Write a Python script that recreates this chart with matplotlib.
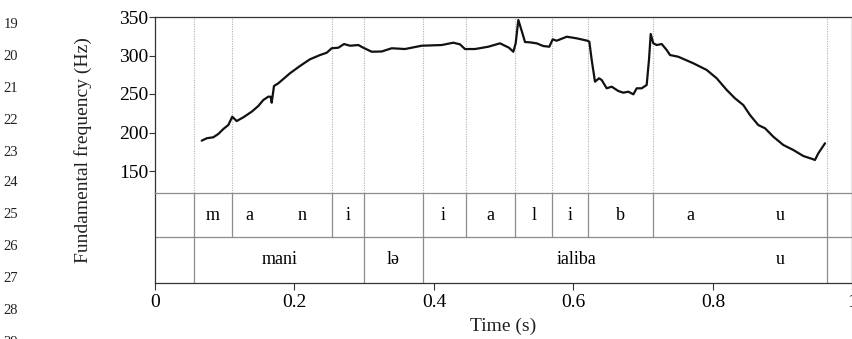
import matplotlib
matplotlib.use("Agg")
import matplotlib.pyplot as plt

plt.rcParams['font.family'] = ['Liberation Serif', 'DejaVu Serif']

# F0 track (time in s, frequency in Hz)
t = [0.0670, 0.0741, 0.0836, 0.0908, 0.0979, 0.1051, 0.1108, 0.1171, 0.1266, 0.1386,
     0.1481, 0.1553, 0.1624, 0.1659, 0.1673, 0.1706, 0.1768, 0.1935, 0.2079, 0.2222,
     0.2366, 0.2462, 0.2533, 0.2628, 0.2710, 0.2796, 0.2915, 0.2986, 0.3107, 0.3250,
     0.3394, 0.3584, 0.3824, 0.4110, 0.4277, 0.4373, 0.4444, 0.4588, 0.4778, 0.4946,
     0.5075, 0.5137, 0.5171, 0.5209, 0.5257, 0.5305, 0.5376, 0.5472, 0.5567, 0.5653,
     0.5702, 0.5759, 0.5903, 0.6046, 0.6198, 0.6227, 0.6261, 0.6308, 0.6366, 0.6404,
     0.6476, 0.6548, 0.6642, 0.6714, 0.6786, 0.6858, 0.6906, 0.6978, 0.7049, 0.7082,
     0.7107, 0.7144, 0.7193, 0.7265, 0.7336, 0.7384, 0.7502, 0.7718, 0.7910, 0.8053,
     0.8197, 0.8315, 0.8434, 0.8530, 0.8649, 0.8746, 0.8865, 0.9008, 0.9151, 0.9294,
     0.9438, 0.9462, 0.9510, 0.9606]
f0 = [189.4, 192.5, 193.8, 198.1, 204.5, 209.7, 220.5, 214.9, 219.7, 227.0,
      234.4, 242.2, 246.5, 246.5, 238.7, 260.4, 263.9, 276.9, 286.4, 295.1,
      300.6, 303.6, 309.4, 310.1, 314.9, 312.7, 313.6, 310.1, 304.9, 305.2,
      309.4, 308.4, 312.7, 313.6, 316.6, 314.5, 308.4, 308.4, 311.4, 315.8,
      310.1, 304.9, 315.8, 346.1, 332.1, 317.5, 317.1, 315.8, 312.3, 311.4,
      321.0, 319.2, 324.4, 322.3, 319.2, 317.9, 294.2, 266.0, 270.4, 268.2,
      257.4, 259.5, 253.9, 251.7, 253.0, 249.6, 257.4, 257.4, 261.7, 294.2,
      327.9, 315.8, 313.6, 314.9, 307.1, 300.6, 298.4, 289.9, 281.2, 270.4,
      255.2, 244.4, 235.7, 222.7, 209.7, 205.5, 194.5, 183.8, 177.3, 169.5,
      165.2, 164.3, 173.0, 186.0]

# segment tier: boundaries and labels (label, time position)
seg_bounds = [0.0559, 0.1108, 0.2533, 0.3001, 0.3838, 0.4459, 0.5161, 0.5696,
              0.6212, 0.7144, 0.9630]
seg_labels = [("m", 0.0834), ("a", 0.136), ("n", 0.2103), ("i", 0.2767),
              ("i", 0.4133), ("a", 0.4810), ("l", 0.5429), ("i", 0.5954),
              ("b", 0.6678), ("a", 0.768), ("u", 0.896)]
# word tier
word_bounds = [0.0559, 0.3001, 0.3838, 0.9630]
word_labels = [("mani", 0.178), ("lə", 0.3420), ("ialiba", 0.6046), ("u", 0.896)]

fig = plt.figure(figsize=(8.53, 3.39), dpi=100)
W, H = 853.0, 339.0
ax = fig.add_axes([155 / W, 1 - 193 / H, 697.5 / W, 176 / H])
tx = fig.add_axes([155 / W, 1 - 283 / H, 697.5 / W, 90 / H])
tx.patch.set_alpha(0)

dark = '#333333'
grey = '#8c8c8c'

for b in seg_bounds:
    ax.axvline(b, color='#b0b0b0', lw=0.8, ls=(0, (1, 1.2)), zorder=1)
ax.plot(t, f0, color='#111111', lw=1.6, zorder=3, solid_capstyle='round',
        solid_joinstyle='round')
ax.set_xlim(0, 1)
ax.set_ylim(350 - 176 * 50 / 38.5, 350)
ax.set_yticks([150, 200, 250, 300, 350])
ax.set_xticks([])
ax.tick_params(axis='y', direction='out', length=4, width=0.8, color=dark,
               labelsize=14, pad=1)
for s in ['top', 'left', 'right']:
    ax.spines[s].set_color(dark)
    ax.spines[s].set_linewidth(0.9)
ax.spines['bottom'].set_visible(False)

# tiers
tx.set_xlim(0, 1)
tx.set_ylim(0, 2)
row_split = 46 / 45.0
tx.axhline(row_split, color=grey, lw=0.9)
for b in seg_bounds:
    tx.plot([b, b], [row_split, 2], color=grey, lw=0.9)
for b in word_bounds:
    tx.plot([b, b], [0, row_split], color=grey, lw=0.9)
for lab, x in seg_labels:
    tx.text(x, (row_split + 2) / 2, lab, ha='center', va='center', fontsize=13)
for lab, x in word_labels:
    tx.text(x, row_split / 2, lab, ha='center', va='center', fontsize=13)
tx.set_yticks([])
tx.set_xticks([0, 0.2, 0.4, 0.6, 0.8, 1.0])
tx.set_xticklabels(["0", "0.2", "0.4", "0.6", "0.8", "1"])
tx.tick_params(axis='x', direction='out', length=5, width=0.8, color=dark,
               labelsize=14, pad=3)
tx.spines['top'].set_color(grey)
tx.spines['top'].set_linewidth(0.9)
for s in ['left', 'right', 'bottom']:
    tx.spines[s].set_color(dark)
    tx.spines[s].set_linewidth(0.9)

fig.text(83 / W, 1 - 150 / H, "Fundamental frequency (Hz)", rotation=90,
         ha='center', va='center', fontsize=14, color='#222222')
fig.text(503.5 / W, 1 - 326 / H, "Time (s)", ha='center', va='center',
         fontsize=14, color='#222222')

# manuscript line numbers in the margin
line_nums = list(range(19, 30))
line_ys = [24, 56, 88, 120, 152, 183, 215, 247, 279, 311, 342]
for n, y in zip(line_nums, line_ys):
    fig.text(11 / W, 1 - y / H, str(n), ha='center', va='center', fontsize=10.5,
             color='#222222')

fig.savefig("out.png", dpi=100)
